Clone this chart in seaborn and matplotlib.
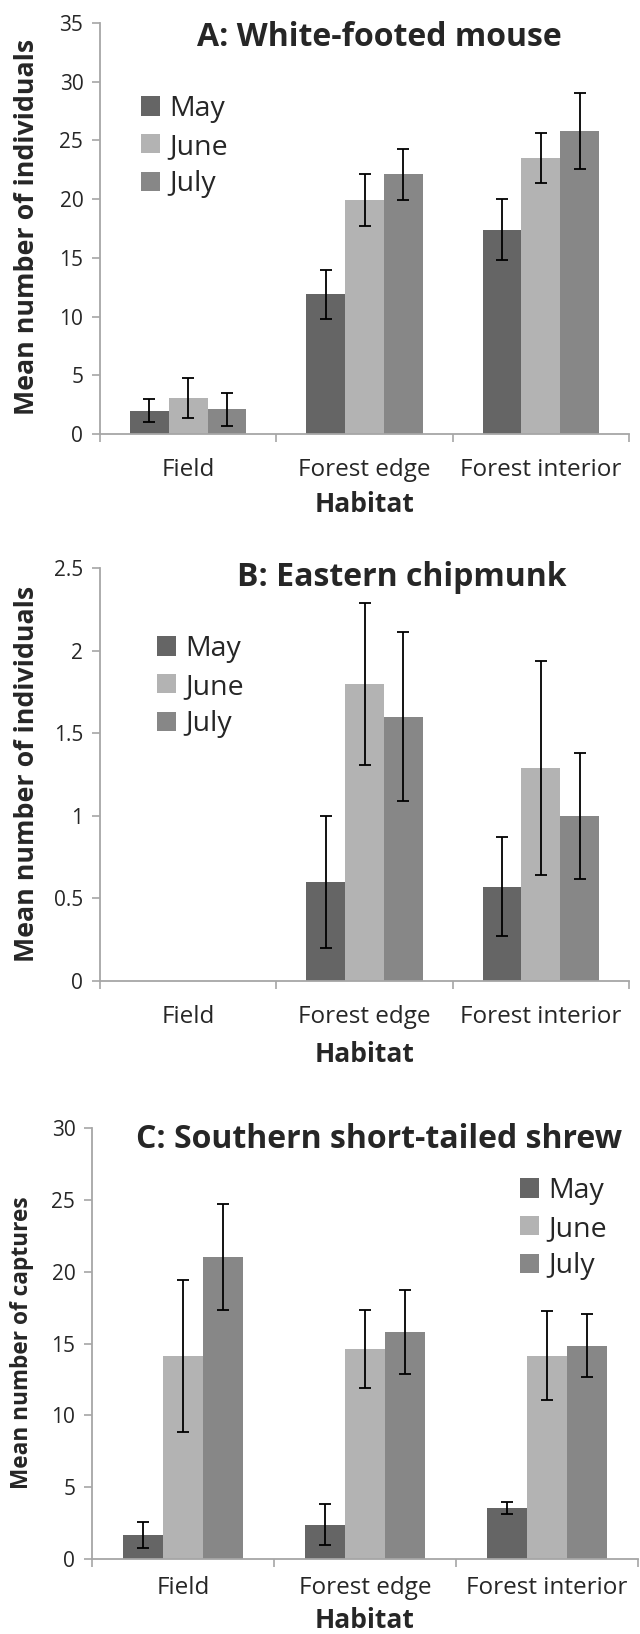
import matplotlib
matplotlib.use("Agg")
import matplotlib.pyplot as plt
import seaborn as sns
import pandas as pd
import numpy as np

sns.set_theme(style="white")
plt.rcParams['font.family'] = ['Open Sans', 'DejaVu Sans']

habitats = ["Field", "Forest edge", "Forest interior"]
months = ["May", "June", "July"]

# Panel A: White-footed mouse (mean, error) per month, per habitat
a_may = [2.0, 11.9, 17.4]
a_june = [3.1, 19.95, 23.5]
a_july = [2.1, 22.1, 25.8]
a_may_err = [1.0, 2.1, 2.6]
a_june_err = [1.7, 2.2, 2.1]
a_july_err = [1.4, 2.15, 3.25]

# Panel B: Eastern chipmunk
b_may = [0.0, 0.6, 0.57]
b_june = [0.0, 1.8, 1.29]
b_july = [0.0, 1.6, 1.0]
b_may_err = [0.0, 0.4, 0.3]
b_june_err = [0.0, 0.49, 0.65]
b_july_err = [0.0, 0.51, 0.38]

# Panel C: Southern short-tailed shrew
c_may = [1.65, 2.4, 3.55]
c_june = [14.15, 14.6, 14.15]
c_july = [21.0, 15.8, 14.85]
c_may_err = [0.9, 1.45, 0.45]
c_june_err = [5.3, 2.7, 3.1]
c_july_err = [3.7, 2.9, 2.2]

colors = ["#656565", "#b3b3b3", "#878787"]
axis_gray = "#a6a6a6"
text_col = "#262626"

W, H = 640, 1634
fig = plt.figure(figsize=(W / 100, H / 100), dpi=100)


def fx(px):
    return px / W


def fy(py):
    return 1 - py / H


def panel(rect, vals, errs, ymax, ystep, yticklabels, title, title_xy, ylabel,
          ylabel_size, ylabel_xy, leg_xy, tick_pad, hab_y):
    left, top, right, bottom = rect
    ax = fig.add_axes([fx(left), fy(bottom), fx(right - left), (bottom - top) / H])
    df = pd.DataFrame({
        "Habitat": habitats * 3,
        "Month": [m for m in months for _ in habitats],
        "Value": vals[0] + vals[1] + vals[2],
    })
    sns.barplot(data=df, x="Habitat", y="Value", hue="Month", order=habitats,
                hue_order=months, palette=colors, errorbar=None, width=0.66,
                gap=0, linewidth=0, saturation=1, ax=ax)
    for cont, err in zip(ax.containers, errs):
        xs = [p.get_x() + p.get_width() / 2 for p in cont.patches]
        ys = [p.get_height() for p in cont.patches]
        for x, y, e in zip(xs, ys, err):
            if e > 0:
                ax.errorbar(x, y, yerr=e, fmt="none", ecolor="black",
                            elinewidth=1.3, capsize=4.5, capthick=1.3)
    ax.set_xlim(-0.5, 2.5)
    ax.set_ylim(0, ymax)
    ax.set_yticks(np.arange(0, ymax + ystep / 2, ystep))
    ax.set_yticklabels(yticklabels)
    ax.set_xticks([-0.5, 0.5, 1.5, 2.5])
    ax.set_xticklabels([])
    ax.set_xticks([0, 1, 2], minor=True)
    ax.set_xticklabels(habitats, minor=True)
    ax.tick_params(axis="x", which="major", length=6, width=1.2, color=axis_gray,
                   direction="out", bottom=True)
    ax.tick_params(axis="x", which="minor", length=0, pad=tick_pad, labelsize=17.5,
                   labelcolor=text_col, bottom=True)
    ax.tick_params(axis="y", length=6, width=1.2, color=axis_gray, direction="out",
                   left=True, labelsize=15, labelcolor=text_col, pad=6)
    for s in ["top", "right"]:
        ax.spines[s].set_visible(False)
    for s in ["left", "bottom"]:
        ax.spines[s].set_color(axis_gray)
        ax.spines[s].set_linewidth(1.3)
    ax.set_xlabel("")
    ax.set_ylabel("")
    fig.text(fx((left + right) / 2), fy(hab_y), "Habitat", fontsize=19,
             fontweight="bold", ha="center", va="center")
    fig.text(fx(ylabel_xy[0]), fy(ylabel_xy[1]), ylabel, rotation=90,
             fontsize=ylabel_size, fontweight="bold", ha="center", va="center")
    fig.text(fx(title_xy[0]), fy(title_xy[1]), title, fontsize=23,
             fontweight="bold", ha="center", va="center")
    handles, labels = ax.get_legend_handles_labels()
    ax.legend(handles, labels, loc="upper left",
              bbox_to_anchor=(fx(leg_xy[0]), fy(leg_xy[1])),
              bbox_transform=fig.transFigure, frameon=False, fontsize=20.5,
              handlelength=0.65, handleheight=0.65, handletextpad=0.35,
              labelspacing=0.34, borderpad=0, borderaxespad=0,
              labelcolor=text_col)
    return ax


panel((100, 23, 629, 434), [a_may, a_june, a_july],
      [a_may_err, a_june_err, a_july_err], 35, 5,
      ["0", "5", "10", "15", "20", "25", "30", "35"],
      "A: White-footed mouse", (379, 37), "Mean number of individuals", 19.3,
      (27, 227), (141, 95), 17.5, 505)
panel((100, 568, 629, 981), [b_may, b_june, b_july],
      [b_may_err, b_june_err, b_july_err], 2.5, 0.5,
      ["0", "0.5", "1", "1.5", "2", "2.5"],
      "B: Eastern chipmunk", (402, 577), "Mean number of individuals", 19.3,
      (27, 774), (157, 635), 17.5, 1054)
panel((92, 1128, 638, 1559), [c_may, c_june, c_july],
      [c_may_err, c_june_err, c_july_err], 30, 5,
      ["0", "5", "10", "15", "20", "25", "30"],
      "C: Southern short-tailed shrew", (379, 1140), "Mean number of captures",
      16.3, (22, 1343), (520, 1177), 12.5, 1620)

fig.savefig("out.png", dpi=100)
